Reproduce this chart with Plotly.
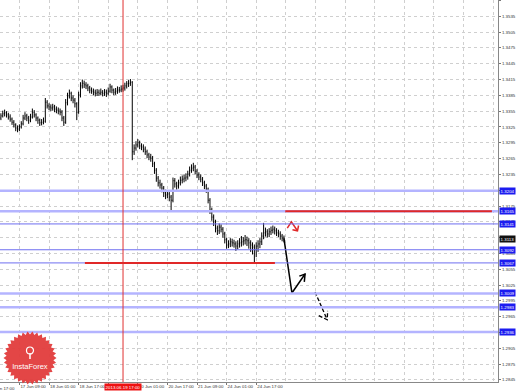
import numpy as np
import plotly.graph_objects as go

# ---------------- data (H1 bars, index = hour bars) ----------------
bar_index = list(range(154))
first_open = 1.3342
close = [1.3346, 1.3350, 1.3352, 1.3348, 1.3344, 1.3340, 1.3334, 1.3329, 1.3323, 1.3321,
         1.3325, 1.3331, 1.3342, 1.3346, 1.3342, 1.3338, 1.3344, 1.3353, 1.3348, 1.3342,
         1.3338, 1.3333, 1.3334, 1.3336, 1.3372, 1.3365, 1.3363, 1.3361, 1.3363, 1.3359,
         1.3357, 1.3355, 1.3353, 1.3342, 1.3334, 1.3371, 1.3384, 1.3389, 1.3380, 1.3376,
         1.3369, 1.3353, 1.3386, 1.3403, 1.3408, 1.3405, 1.3403, 1.3399, 1.3395, 1.3393,
         1.3391, 1.3389, 1.3391, 1.3389, 1.3391, 1.3389, 1.3391, 1.3389, 1.3393, 1.3401,
         1.3395, 1.3391, 1.3393, 1.3395, 1.3395, 1.3397, 1.3399, 1.3403, 1.3407, 1.3408,
         1.3410, 1.3278, 1.3285, 1.3291, 1.3295, 1.3289, 1.3287, 1.3283, 1.3278, 1.3272,
         1.3268, 1.3266, 1.3255, 1.3243, 1.3228, 1.3219, 1.3215, 1.3209, 1.3200, 1.3196,
         1.3198, 1.3192, 1.3186, 1.3223, 1.3217, 1.3213, 1.3219, 1.3224, 1.3226, 1.3228,
         1.3230, 1.3236, 1.3243, 1.3247, 1.3249, 1.3241, 1.3234, 1.3230, 1.3226, 1.3219,
         1.3213, 1.3207, 1.3186, 1.3167, 1.3154, 1.3145, 1.3133, 1.3128, 1.3135, 1.3131,
         1.3122, 1.3111, 1.3101, 1.3103, 1.3107, 1.3105, 1.3103, 1.3099, 1.3103, 1.3105,
         1.3107, 1.3109, 1.3111, 1.3109, 1.3105, 1.3101, 1.3097, 1.3092, 1.3099, 1.3103,
         1.3107, 1.3118, 1.3124, 1.3126, 1.3122, 1.3126, 1.3129, 1.3131, 1.3128, 1.3124,
         1.3122, 1.3118, 1.3114, 1.3113]
high = [1.3351, 1.3356, 1.3358, 1.3355, 1.3352, 1.3349, 1.3343, 1.3338, 1.3332, 1.3328,
        1.3330, 1.3336, 1.3348, 1.3353, 1.3350, 1.3346, 1.3350, 1.3360, 1.3357, 1.3351,
        1.3345, 1.3341, 1.3340, 1.3343, 1.3380, 1.3376, 1.3370, 1.3368, 1.3369, 1.3367,
        1.3364, 1.3362, 1.3360, 1.3357, 1.3346, 1.3378, 1.3390, 1.3396, 1.3392, 1.3385,
        1.3380, 1.3372, 1.3392, 1.3410, 1.3415, 1.3413, 1.3410, 1.3407, 1.3403, 1.3400,
        1.3398, 1.3396, 1.3397, 1.3396, 1.3398, 1.3395, 1.3397, 1.3396, 1.3400, 1.3407,
        1.3404, 1.3398, 1.3399, 1.3402, 1.3401, 1.3404, 1.3405, 1.3409, 1.3412, 1.3414,
        1.3416, 1.3412, 1.3292, 1.3298, 1.3302, 1.3299, 1.3294, 1.3292, 1.3288, 1.3282,
        1.3276, 1.3274, 1.3270, 1.3259, 1.3247, 1.3232, 1.3225, 1.3219, 1.3213, 1.3206,
        1.3205, 1.3202, 1.3196, 1.3229, 1.3228, 1.3221, 1.3225, 1.3231, 1.3233, 1.3235,
        1.3237, 1.3242, 1.3250, 1.3254, 1.3257, 1.3253, 1.3245, 1.3239, 1.3235, 1.3230,
        1.3223, 1.3217, 1.3210, 1.3190, 1.3172, 1.3159, 1.3149, 1.3138, 1.3142, 1.3140,
        1.3135, 1.3126, 1.3115, 1.3110, 1.3114, 1.3113, 1.3111, 1.3108, 1.3110, 1.3114,
        1.3118, 1.3116, 1.3120, 1.3117, 1.3114, 1.3110, 1.3106, 1.3102, 1.3106, 1.3110,
        1.3114, 1.3125, 1.3143, 1.3134, 1.3131, 1.3133, 1.3136, 1.3138, 1.3136, 1.3133,
        1.3130, 1.3127, 1.3122, 1.3119]
low = [1.3338, 1.3343, 1.3345, 1.3343, 1.3339, 1.3335, 1.3329, 1.3324, 1.3317, 1.3315,
       1.3317, 1.3322, 1.3328, 1.3338, 1.3336, 1.3331, 1.3334, 1.3341, 1.3343, 1.3336,
       1.3331, 1.3327, 1.3328, 1.3330, 1.3333, 1.3360, 1.3357, 1.3355, 1.3356, 1.3353,
       1.3351, 1.3349, 1.3347, 1.3336, 1.3327, 1.3331, 1.3366, 1.3379, 1.3374, 1.3370,
       1.3362, 1.3338, 1.3350, 1.3381, 1.3398, 1.3399, 1.3397, 1.3393, 1.3389, 1.3388,
       1.3385, 1.3383, 1.3384, 1.3384, 1.3385, 1.3383, 1.3384, 1.3382, 1.3385, 1.3390,
       1.3389, 1.3385, 1.3386, 1.3388, 1.3390, 1.3391, 1.3392, 1.3394, 1.3398, 1.3401,
       1.3403, 1.3262, 1.3272, 1.3280, 1.3286, 1.3283, 1.3281, 1.3277, 1.3272, 1.3266,
       1.3262, 1.3259, 1.3249, 1.3236, 1.3221, 1.3212, 1.3208, 1.3201, 1.3192, 1.3188,
       1.3190, 1.3184, 1.3167, 1.3182, 1.3210, 1.3206, 1.3208, 1.3214, 1.3218, 1.3220,
       1.3222, 1.3225, 1.3231, 1.3238, 1.3241, 1.3235, 1.3228, 1.3224, 1.3220, 1.3213,
       1.3207, 1.3200, 1.3180, 1.3160, 1.3147, 1.3137, 1.3125, 1.3120, 1.3122, 1.3125,
       1.3115, 1.3104, 1.3094, 1.3095, 1.3097, 1.3098, 1.3096, 1.3090, 1.3093, 1.3096,
       1.3098, 1.3100, 1.3102, 1.3099, 1.3094, 1.3088, 1.3083, 1.3067, 1.3078, 1.3088,
       1.3095, 1.3101, 1.3112, 1.3117, 1.3115, 1.3116, 1.3120, 1.3123, 1.3121, 1.3118,
       1.3116, 1.3111, 1.3108, 1.3106]
open_ = [first_open] + close[:-1]

date_tick_index = [10, 26, 42, 58, 74, 90, 106, 122, 138]
date_tick_text = ["17 Jun 09:00", "18 Jun 01:00", "18 Jun 17:00", "19 Jun 09:00",
                  "20 Jun 01:00", "20 Jun 17:00", "21 Jun 09:00", "24 Jun 01:00",
                  "24 Jun 17:00"]
first_label_index = -6
first_label_text = "16 Jun 17:00"

levels_thick = [1.3204, 1.3165, 1.3009, 1.2983, 1.2936]
levels_thin = [1.3141, 1.3092, 1.3067]
current_price = 1.3113
marker_bar = 66
marker_label = "2013.06.19 17:00"

support_segment = [45.4, 148.1, 1.3067]      # x0, x1, price
resistance_segment = [153.7, 265.4, 1.3165]

# hand-drawn forecast marks (bar index, price)
black_arrow_x = [153, 157.3, 164.4, None, 161.3, 164.4, 164.0]
black_arrow_y = [1.3113, 1.3010, 1.3046, None, 1.3042, 1.3046, 1.3031]
dash_arrow_x = [169.8, 176.4, None, 171.8, 176.4, 176.6]
dash_arrow_y = [1.3012, 1.2959, None, 1.2967, 1.2959, 1.2976]
red_arrow_x = [154.8, 157.0, 160.3, None, 157.6, 160.3, 160.9]
red_arrow_y = [1.3133, 1.3145, 1.3128, None, 1.3130, 1.3128, 1.3138]

# ---------------- figure ----------------
W, H = 518, 392
ML, MR, MT, MB = 0, 20, 0, 10
PW, PH = W - ML - MR, H - MT - MB
XR = [-0.5, 268.7]
YR = [1.2841, 1.3566]
FONT = "Liberation Sans"
FS = 4.4
GRID = "#cfcfcf"

fig = go.Figure()
fig.add_trace(go.Ohlc(
    x=bar_index, open=open_, high=high, low=low, close=close,
    increasing_line_color="black", decreasing_line_color="black",
    line_width=1, tickwidth=0.3, showlegend=False, hoverinfo="skip"))

shapes = []
for lv in levels_thick:
    shapes.append(dict(type="line", xref="paper", x0=0, x1=1, yref="y", y0=lv, y1=lv,
                       line=dict(color="#b4b4ff", width=2.5), layer="above"))
for lv in levels_thin:
    shapes.append(dict(type="line", xref="paper", x0=0, x1=1, yref="y", y0=lv, y1=lv,
                       line=dict(color="#6e6ef0", width=1), layer="above"))
for seg in (support_segment, resistance_segment):
    shapes.append(dict(type="line", xref="x", x0=seg[0], x1=seg[1], yref="y", y0=seg[2], y1=seg[2],
                       line=dict(color="#e02828", width=2), layer="above"))
shapes.append(dict(type="line", xref="x", x0=marker_bar, x1=marker_bar, yref="paper", y0=0, y1=1,
                   line=dict(color="#e03030", width=1), layer="above"))

# InstaForex badge (decoration) in pixel space converted to paper
def px2paper(px, py):
    return px / PW, 1 - py / PH

cx, cy, R1, R2, n = 30, 358, 26.5, 23.5, 34
pts = []
for k in range(2 * n):
    a = np.pi * k / n
    r = R1 if k % 2 == 0 else R2
    pts.append(px2paper(cx + r * np.cos(a), cy + r * np.sin(a)))
path = "M " + " L ".join(f"{x:.5f},{y:.5f}" for x, y in pts) + " Z"
shapes.append(dict(type="path", xref="paper", yref="paper", path=path,
                   fillcolor="#e23c3c", line=dict(width=0), layer="above", opacity=0.95))
hx0, hy0 = px2paper(cx - 3.5, 347)
hx1, hy1 = px2paper(cx + 3.5, 354)
shapes.append(dict(type="circle", xref="paper", yref="paper", x0=hx0, y0=hy0, x1=hx1, y1=hy1,
                   line=dict(color="white", width=1.2), layer="above"))
lx, ly0 = px2paper(cx, 353)
_, ly1 = px2paper(cx, 359)
shapes.append(dict(type="line", xref="paper", yref="paper", x0=lx, x1=lx, y0=ly0, y1=ly1,
                   line=dict(color="white", width=1.5), layer="above"))

fig.add_trace(go.Scatter(x=black_arrow_x, y=black_arrow_y, mode="lines",
                         line=dict(color="black", width=1.5), showlegend=False, hoverinfo="skip"))
fig.add_trace(go.Scatter(x=dash_arrow_x, y=dash_arrow_y, mode="lines",
                         line=dict(color="black", width=1.3, dash="4px,2px"), showlegend=False, hoverinfo="skip"))
fig.add_trace(go.Scatter(x=red_arrow_x, y=red_arrow_y, mode="lines",
                         line=dict(color="#e02828", width=1.5), showlegend=False, hoverinfo="skip"))

annotations = []
for lv in levels_thick + levels_thin:
    annotations.append(dict(xref="paper", x=1, xanchor="left", xshift=1, yref="y", y=lv,
                            text=f"{lv:.4f}", showarrow=False, bgcolor="#1c1cf0",
                            font=dict(color="white", size=FS, family=FONT), borderpad=0.6))
annotations.append(dict(xref="paper", x=1, xanchor="left", xshift=1, yref="y", y=current_price,
                        text=f"{current_price:.4f}", showarrow=False, bgcolor="#111111",
                        font=dict(color="white", size=FS, family=FONT), borderpad=0.6))
annotations.append(dict(xref="x", x=marker_bar, yref="paper", y=0, yanchor="top", yshift=-1,
                        text=marker_label, showarrow=False, bgcolor="#ee1111",
                        font=dict(color="white", size=FS, family=FONT), borderpad=0.6))
fx = (first_label_index - XR[0]) / (XR[1] - XR[0])
annotations.append(dict(xref="paper", x=fx, xanchor="left", xshift=-3, yref="paper", y=0,
                        yanchor="top", yshift=-2, text=first_label_text, showarrow=False,
                        font=dict(color="#333", size=FS, family=FONT)))
tx, ty = px2paper(cx, 366)
annotations.append(dict(xref="paper", yref="paper", x=tx, y=ty, xanchor="center", yanchor="middle",
                        text="InstaForex", showarrow=False, width=50,
                        font=dict(color="white", size=7.5, family=FONT)))

fig.update_layout(
    width=W, height=H, margin=dict(l=ML, r=MR, t=MT, b=MB, autoexpand=False),
    paper_bgcolor="white", plot_bgcolor="white",
    shapes=shapes, annotations=annotations, showlegend=False,
    font=dict(family=FONT, size=FS, color="#333"),
    xaxis=dict(range=XR, rangeslider=dict(visible=False), tickmode="array",
               tickvals=date_tick_index, ticktext=date_tick_text, tickangle=0,
               automargin=False,
               ticklabelposition="outside right", ticks="outside", ticklen=2,
               tickcolor="#777", tickfont=dict(size=FS, family=FONT, color="#333"),
               showline=True, linecolor="#888", linewidth=1,
               showgrid=True, gridcolor=GRID, griddash="dot", gridwidth=1, zeroline=False,
               minor=dict(tickmode="linear", tick0=10, dtick=16, showgrid=True,
                          gridcolor=GRID, griddash="dot", ticks="")),
    yaxis=dict(range=YR, side="right", tickmode="linear", tick0=1.2845, dtick=0.003,
               automargin=False,
               tickformat=".4f", ticks="outside", ticklen=2, tickcolor="#777",
               tickfont=dict(size=FS, family=FONT, color="#333"),
               showline=True, linecolor="#888", linewidth=1,
               showgrid=True, gridcolor=GRID, griddash="dot", zeroline=False),
)

fig.write_html("out.html")
